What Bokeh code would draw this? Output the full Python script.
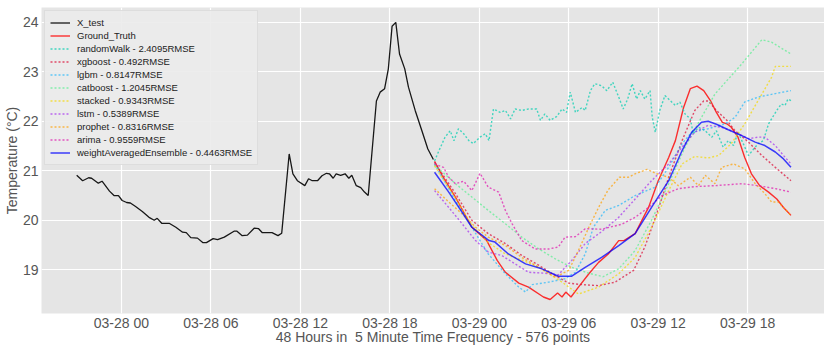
import pandas as pd
from bokeh.plotting import figure
from bokeh.models import FixedTicker, DatetimeTickFormatter, Legend, LegendItem, Range1d
from bokeh.embed import file_html
from bokeh.resources import INLINE

# Time positions are hours relative to 2019-03-28 00:00
BASE = pd.Timestamp("2019-03-28 00:00")

xtest_h = [-3.0, -2.6, -2.2, -2.0, -1.55, -1.3, -0.8, -0.5, -0.2, 0.05, 0.35, 0.6, 0.95, 1.4, 1.85,
           2.2, 2.4, 2.7, 3.2, 3.65, 4.1, 4.35, 4.65, 5.1, 5.45, 5.7, 6.15, 6.45, 6.9, 7.55, 7.75,
           8.1, 8.45, 8.9, 9.2, 9.45, 10.1, 10.5, 10.75, 11.25, 11.5, 11.8, 12.3, 12.55, 12.8, 13.15,
           13.45, 13.75, 13.95, 14.2, 14.4, 14.7, 15.0, 15.25, 15.45, 15.75, 16.05, 16.3, 16.55,
           17.1, 17.35, 17.65, 17.9, 18.15, 18.4, 18.65, 19.0, 19.25, 19.7, 20.15, 20.55, 20.92]
xtest_v = [20.91, 20.80, 20.86, 20.85, 20.75, 20.79, 20.59, 20.50, 20.50, 20.40, 20.36, 20.35, 20.28,
           20.18, 20.06, 20.00, 20.04, 19.94, 19.94, 19.86, 19.76, 19.75, 19.65, 19.64, 19.55, 19.55,
           19.63, 19.61, 19.66, 19.78, 19.78, 19.69, 19.70, 19.84, 19.83, 19.75, 19.75, 19.69, 19.74,
           21.34, 20.94, 20.80, 20.70, 20.84, 20.80, 20.80, 20.90, 20.95, 20.94, 20.85, 20.94, 20.91,
           20.94, 20.85, 20.91, 20.70, 20.66, 20.57, 20.50, 22.41, 22.59, 22.66, 23.06, 23.92, 24.00,
           23.36, 23.06, 22.69, 22.22, 21.81, 21.44, 21.23]

gt_h = [21.0, 21.5, 22.4, 23.5, 24.5, 25.2, 25.75, 26.65, 27.3, 28.3, 28.75, 29.25, 29.55, 29.8, 30.15,
        30.65, 31.35, 32.0, 32.65, 33.35, 33.7, 34.45, 35.35, 36.0, 36.7, 37.15, 37.7, 38.15, 38.6,
        39.05, 39.5, 39.9, 40.3, 40.6, 40.9, 41.35, 41.8, 42.25, 42.8, 43.4, 43.95, 44.4, 44.9]
gt_v = [21.19, 20.91, 20.47, 19.86, 19.59, 19.19, 18.95, 18.73, 18.65, 18.45, 18.40, 18.53, 18.45, 18.55,
        18.45, 18.65, 18.92, 19.15, 19.32, 19.59, 19.59, 19.73, 20.26, 20.80, 21.27, 21.61, 22.28, 22.66,
        22.71, 22.62, 22.42, 22.18, 21.98, 21.95, 21.88, 21.68, 21.27, 20.94, 20.70, 20.57, 20.43, 20.26,
        20.10]

rw_h = [21.0, 21.3, 21.7, 22.05, 22.3, 22.6, 22.95, 23.3, 23.6, 24.05, 24.4, 24.65, 24.95, 25.4, 25.75,
        26.1, 26.4, 26.85, 27.3, 27.85, 28.1, 28.4, 28.75, 29.2, 29.55, 29.85, 30.1, 30.45, 30.9, 31.1,
        31.45, 31.75, 32.2, 32.55, 32.95, 33.35, 33.65, 33.95, 34.25, 34.55, 34.8, 35.1, 35.45, 35.6,
        35.8, 36.1, 36.45, 36.8, 37.15, 37.45, 37.8, 38.15, 38.35, 38.7, 39.15, 39.6, 39.9, 40.35, 40.7,
        41.05, 41.35, 41.7, 42.05, 42.4, 42.7, 43.05, 43.4, 43.6, 43.95, 44.25, 44.5, 44.7, 44.9]
rw_v = [21.20, 21.41, 21.68, 21.81, 21.61, 21.85, 21.75, 21.61, 21.55, 21.68, 21.75, 21.61, 22.25, 22.18,
        22.22, 22.05, 22.25, 22.22, 22.25, 22.25, 22.02, 22.15, 22.02, 22.10, 22.25, 22.18, 22.59, 22.18,
        22.28, 22.22, 22.62, 22.76, 22.72, 22.62, 22.79, 22.49, 22.25, 22.45, 22.76, 22.45, 22.62, 22.45,
        22.62, 22.08, 21.78, 22.22, 22.52, 22.42, 22.32, 22.39, 22.15, 22.05, 21.75, 21.88, 21.81, 21.68,
        21.81, 21.48, 21.61, 21.51, 21.78, 21.55, 21.31, 21.44, 21.55, 21.61, 21.95, 22.05, 22.22, 22.35,
        22.32, 22.45, 22.42]

xgb_h = [21.0, 22.4, 23.5, 24.6, 25.75, 26.85, 28.0, 29.1, 30.0, 30.9, 32.0, 33.1, 34.35, 35.1, 35.9,
         36.7, 37.6, 38.45, 39.05, 39.35, 39.9, 40.6, 41.15, 42.05, 42.95, 43.85, 44.9]
xgb_v = [21.17, 20.54, 20.00, 19.73, 19.53, 19.29, 19.09, 18.88, 18.73, 18.70, 18.68, 18.75, 18.99, 19.46,
         20.13, 20.87, 21.61, 22.22, 22.41, 22.41, 22.22, 22.02, 21.81, 21.58, 21.31, 21.07, 20.80]

lgbm_h = [21.0, 22.4, 23.5, 24.6, 25.75, 26.65, 27.1, 27.55, 28.65, 29.75, 30.45, 31.1, 31.65, 32.45,
          33.35, 34.45, 35.8, 36.7, 37.6, 38.25, 39.35, 40.5, 41.15, 41.8, 42.7, 43.85, 44.9]
lgbm_v = [21.14, 20.40, 19.86, 19.32, 18.92, 18.65, 18.55, 18.70, 18.75, 18.82, 18.95, 19.32, 19.86, 20.20,
          20.30, 20.50, 20.67, 21.07, 21.55, 21.78, 21.85, 21.95, 22.08, 22.39, 22.49, 22.56, 22.62]

cat_h = [21.0, 22.4, 23.5, 24.6, 25.75, 26.85, 28.0, 29.1, 30.2, 31.35, 32.3, 33.35, 34.45, 35.55, 36.7,
         37.8, 38.9, 39.8, 41.6, 42.95, 43.6, 44.9]
cat_v = [21.12, 20.74, 20.47, 20.20, 19.93, 19.66, 19.42, 19.22, 19.05, 18.93, 18.86, 19.02, 19.39, 20.00,
         20.74, 21.48, 22.08, 22.55, 23.16, 23.65, 23.60, 23.36]

stk_h = [21.0, 22.4, 23.5, 24.6, 25.75, 27.0, 28.0, 29.55, 30.65, 32.0, 33.35, 34.45, 35.55, 36.7, 37.6,
         38.45, 39.35, 40.05, 40.9, 41.8, 42.7, 43.6, 43.85, 44.9]
stk_v = [21.10, 20.45, 19.90, 19.55, 19.32, 19.18, 19.05, 18.75, 18.51, 18.65, 18.92, 19.25, 19.86, 20.60,
         21.14, 21.29, 21.26, 21.31, 21.55, 21.95, 22.42, 22.89, 23.11, 23.11]

lstm_h = [21.0, 21.95, 22.85, 23.75, 24.6, 25.5, 26.4, 27.3, 28.4, 29.3, 30.2, 31.1, 32.2, 33.35, 34.45,
          35.55, 36.7, 37.6, 38.45, 39.35, 40.25, 41.15, 42.05, 42.7, 43.15, 43.85, 44.4, 44.9]
lstm_v = [20.60, 20.26, 19.93, 19.59, 19.36, 19.29, 19.12, 18.95, 18.93, 18.90, 19.19, 19.53, 19.77, 20.06,
          20.43, 20.80, 21.14, 21.48, 21.78, 21.92, 21.88, 21.78, 21.65, 21.68, 21.68, 21.51, 21.31, 21.14]

pro_h = [21.0, 21.95, 22.85, 23.75, 24.6, 25.75, 26.85, 28.0, 29.1, 30.0, 30.65, 31.35, 32.0, 32.65,
         32.9, 33.4, 34.0, 34.45, 35.25, 35.9, 36.7, 37.35, 38.15, 38.7, 39.15, 39.8, 40.25, 41.05,
         41.8, 42.5, 43.15, 43.6, 44.05, 44.9]
pro_v = [20.64, 20.37, 20.13, 19.86, 19.66, 19.49, 19.25, 19.05, 18.85, 18.99, 19.39, 19.86, 20.26, 20.62,
         20.70, 20.87, 20.87, 20.94, 21.03, 20.94, 20.87, 20.70, 20.87, 20.70, 20.91, 20.74, 21.07, 21.14,
         21.04, 20.74, 20.54, 20.37, 20.37, 20.10]

ari_h = [21.0, 21.6, 21.95, 22.4, 22.95, 23.5, 24.05, 24.6, 25.3, 25.75, 26.2, 26.85, 27.75, 28.65, 29.3,
         29.75, 30.45, 31.1, 32.2, 33.55, 34.45, 35.35, 36.25, 37.35, 38.45, 39.8, 41.6, 42.7, 43.85, 44.9]
ari_v = [21.14, 21.07, 20.87, 20.74, 20.79, 20.60, 20.95, 20.67, 20.57, 20.20, 19.93, 19.59, 19.42, 19.42,
         19.46, 19.66, 19.67, 19.83, 19.82, 19.92, 20.06, 20.26, 20.50, 20.64, 20.68, 20.70, 20.74, 20.70,
         20.64, 20.57]

ens_h = [21.0, 21.95, 22.85, 23.5, 24.65, 25.05, 25.95, 27.1, 28.2, 29.3, 30.2, 31.1, 32.2, 33.35, 34.45,
         35.55, 36.7, 37.6, 38.25, 38.9, 39.35, 39.9, 40.7, 41.6, 42.5, 43.15, 43.85, 44.4, 44.9]
ens_v = [20.97, 20.57, 20.16, 19.86, 19.59, 19.56, 19.32, 19.12, 19.02, 18.87, 18.87, 19.05, 19.25, 19.49,
         19.73, 20.26, 20.80, 21.41, 21.78, 21.98, 22.00, 21.94, 21.83, 21.71, 21.58, 21.51, 21.38, 21.24,
         21.07]

labels = ["X_test", "Ground_Truth", "randomWalk - 2.4095RMSE", "xgboost - 0.492RMSE", "lgbm - 0.8147RMSE",
          "catboost - 1.2045RMSE", "stacked - 0.9343RMSE", "lstm - 0.5389RMSE", "prophet - 0.8316RMSE",
          "arima - 0.9559RMSE", "weightAveragedEnsemble - 0.4463RMSE"]
tick_hours = [0, 6, 12, 18, 24, 30, 36, 42]
x_label = "48 Hours in\u00a0 5 Minute Time Frequency - 576 points"
y_label = "Temperature (°C)"


def to_dt(hours):
    return [BASE + pd.Timedelta(hours=h) for h in hours]


series = [
    (xtest_h, xtest_v, "#000000", 0.9, None, 1.3),
    (gt_h, gt_v, "#FF0000", 0.8, None, 1.4),
    (rw_h, rw_v, "#2FD3BA", 0.9, "2 2", 1.4),
    (xgb_h, xgb_v, "#DC143C", 0.75, "2 2", 1.4),
    (lgbm_h, lgbm_v, "#00AFFF", 0.6, "2 2", 1.4),
    (cat_h, cat_v, "#40F080", 0.6, "2 2", 1.4),
    (stk_h, stk_v, "#F5D800", 0.7, "2 2", 1.4),
    (lstm_h, lstm_v, "#A020F0", 0.65, "2 2", 1.4),
    (pro_h, pro_v, "#FFA000", 0.7, "2 2", 1.4),
    (ari_h, ari_v, "#E020B0", 0.75, "2 2", 1.4),
    (ens_h, ens_v, "#0000FF", 0.75, None, 1.5),
]

ms = lambda h: (BASE + pd.Timedelta(hours=h)).value / 1e6

p = figure(frame_width=783, frame_height=306, x_axis_type="datetime", output_backend="svg",
           toolbar_location=None, x_range=Range1d(ms(-5.36), ms(47.15)), y_range=Range1d(18.117, 24.30),
           min_border_top=7, min_border_right=0, min_border_left=0, min_border_bottom=0)
p.background_fill_color = "#E5E5E5"
p.border_fill_color = "white"
p.outline_line_color = None
p.grid.grid_line_color = "white"
p.grid.grid_line_width = 1.2

p.xaxis.ticker = FixedTicker(ticks=[ms(h) for h in tick_hours])
fmt = "%m-%d %H"
p.xaxis.formatter = DatetimeTickFormatter(microseconds=fmt, milliseconds=fmt, seconds=fmt, minsec=fmt,
                                          minutes=fmt, hourmin=fmt, hours=fmt, days=fmt, months=fmt, years=fmt)
p.yaxis.ticker = FixedTicker(ticks=[19, 20, 21, 22, 23, 24])
for ax in (p.xaxis, p.yaxis):
    ax.axis_line_color = None
    ax.major_tick_line_color = None
    ax.minor_tick_line_color = None
    ax.major_tick_out = 0
    ax.major_tick_in = 0
    ax.minor_tick_out = 0
    ax.minor_tick_in = 0
    ax.major_label_text_font = "Liberation Sans"
    ax.major_label_text_font_size = "14px"
    ax.major_label_text_color = "#555555"
    ax.axis_label_text_font = "Liberation Sans"
    ax.axis_label_text_font_size = "14px"
    ax.axis_label_text_font_style = "normal"
    ax.axis_label_text_color = "#555555"
p.xaxis.axis_label = x_label
p.yaxis.axis_label = y_label
p.xaxis.major_label_standoff = 1
p.xaxis.axis_label_standoff = -5
p.yaxis.major_label_standoff = 3
p.yaxis.axis_label_standoff = 0

items = []
for (hs, vs, color, alpha, dash, lw), lab in zip(series, labels):
    kw = dict(line_color=color, line_alpha=alpha, line_width=lw)
    if dash:
        kw["line_dash"] = dash
    r = p.line(to_dt(hs), vs, **kw)
    items.append(LegendItem(label=lab, renderers=[r]))

leg = Legend(items=items, location="top_left", label_text_font="Liberation Sans",
             label_text_font_size="9.5px", label_text_color="#222222", glyph_width=20, glyph_height=13,
             label_height=13, spacing=0, padding=5, margin=3, label_standoff=7,
             background_fill_color="#EBEBEB", background_fill_alpha=0.9,
             border_line_color="#D0D0D0", border_line_width=1)
p.add_layout(leg)

open("out.html", "w").write(file_html(p, INLINE))
